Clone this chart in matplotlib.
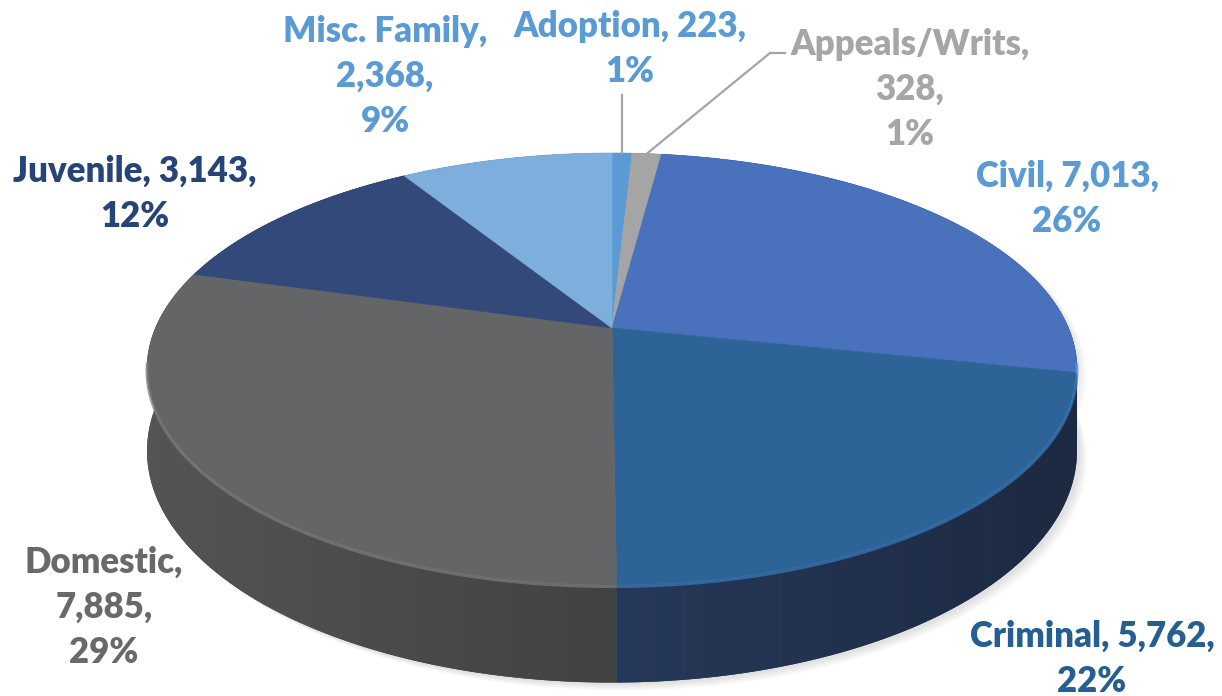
import numpy as np
import matplotlib.pyplot as plt
from matplotlib.patches import Polygon
from matplotlib.colors import to_rgb

# case counts by type, clockwise from 12 o'clock
categories = ["Adoption", "Appeals/Writs", "Civil", "Criminal", "Domestic", "Juvenile", "Misc. Family"]
counts = [223, 328, 7013, 5762, 7885, 3143, 2368]
pct_labels = [1, 1, 26, 22, 29, 12, 9]

top_colors = ["#5B9BD5", "#A5A5A5", "#4A72BC", "#2E6398", "#646566", "#33497A", "#7DAEDC"]
side_colors = ["#2F5578", "#5A5A5A", "#2A3F6A", "#27395A", "#424243", "#1F2D4C", "#44688A"]
text_colors = ["#5B9BD5", "#A8A5A5", "#5B9BD5", "#255E91", "#6B6868", "#264478", "#5B9BD5"]

# label layout: baseline of first line, and whether the value sits on the name line
label_pos = [(630, 37), (910, 55), (1067, 187), (1092, 647), (104, 573), (135, 182), (385, 42)]
value_on_first = [True, False, True, True, False, True, False]

plt.rcParams['font.family'] = ['Lato', 'DejaVu Sans']

cx, cy = 612, 328
sx, sy, persp = 456.5, 208.2, 0.19
depth = 79


def project(theta, drop=0.0):
    X = np.sin(theta)
    Y = np.cos(theta)
    w = 1 + persp * Y
    return cx + sx * X / w, cy - sy * Y / w + drop / w


fig = plt.figure(figsize=(12.22, 6.96), dpi=100)
ax = fig.add_axes([0, 0, 1, 1])
ax.set_xlim(0, 1222)
ax.set_ylim(696, 0)
ax.axis('off')

vals = np.array(counts, dtype=float)
edges = np.concatenate([[0], np.cumsum(vals)]) / vals.sum() * 2 * np.pi
mid = (edges[:-1] + edges[1:]) / 2

# soft shadow
th_all = np.linspace(0, 2 * np.pi, 400)
for k in range(10):
    x0, y0 = project(th_all, depth)
    ax.fill(x0 + 3 + k * 0.8, y0 + 2 + k * 0.7, color='#000000', alpha=0.010, lw=0, zorder=0)
    x1, y1 = project(th_all)
    ax.fill(x1 + 3 + k * 0.8, y1 + 2 + k * 0.5, color='#000000', alpha=0.006, lw=0, zorder=0)

# side walls: horizontal shading gradient clipped to each slice's band
xs = np.linspace(140, 1085, 400)
fac = 1.0 - 0.28 * np.clip((xs - cx) / 465, -1, 1)
for i in sorted(range(len(counts)), key=lambda k: -np.cos(mid[k])):
    th = np.linspace(edges[i], edges[i + 1], 200)
    xt, yt = project(th)
    xb, yb = project(th, depth)
    poly = Polygon(np.c_[np.r_[xt, xb[::-1]], np.r_[yt, yb[::-1]]], closed=True,
                   fc=side_colors[i], ec='none', zorder=1)
    ax.add_patch(poly)
    rgb = np.array(to_rgb(side_colors[i]))
    img = np.clip(fac[None, :, None] * rgb[None, None, :], 0, 1)
    im = ax.imshow(img, extent=(140, 1085, 700, 140), aspect='auto', interpolation='bilinear', zorder=1)
    im.set_clip_path(poly)

# top faces
for i in range(len(counts)):
    th = np.linspace(edges[i], edges[i + 1], 200)
    x, y = project(th)
    ax.fill(np.r_[cx, x], np.r_[cy, y], color=top_colors[i], lw=0.5, ec=top_colors[i], zorder=2)
    # light rim along the front edge
    front = th[np.cos(th) < -0.15]
    if len(front) > 1:
        xf, yf = project(front)
        r, g, b = to_rgb(top_colors[i])
        ax.plot(xf, yf + 1.5, color=(min(r * 1.25, 1), min(g * 1.25, 1), min(b * 1.25, 1)),
                lw=2.2, alpha=0.7, solid_capstyle='butt', zorder=3)

# labels
for i, name in enumerate(categories):
    if value_on_first[i]:
        lines = [f"{name}, {counts[i]:,},", f"{pct_labels[i]}%"]
    else:
        lines = [f"{name},", f"{counts[i]:,},", f"{pct_labels[i]}%"]
    lx, ly = label_pos[i]
    for j, s in enumerate(lines):
        ax.text(lx, ly + j * 45, s, ha='center', va='baseline', fontsize=25,
                fontweight='heavy', color=text_colors[i], zorder=5)

# leader lines for the two thin slices
ax0, ay0 = project(mid[0])
ax.plot([ax0, ax0], [95, ay0], color='#A5A5A5', lw=1.6, zorder=4)
px, py = project(mid[1])
ax.plot([px, 770, 785], [py, 53, 53], color='#A5A5A5', lw=1.6, zorder=4)

fig.savefig('out.png', dpi=100)
